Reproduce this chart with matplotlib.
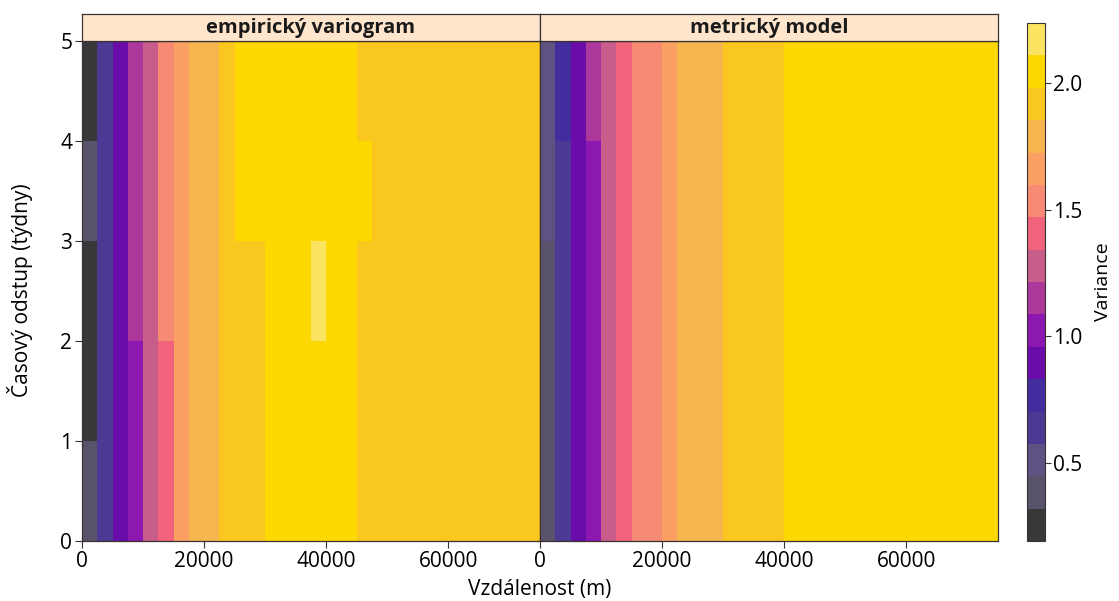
import numpy as np
import matplotlib.pyplot as plt
from matplotlib.colors import ListedColormap, BoundaryNorm
from matplotlib.cm import ScalarMappable

plt.rcParams['font.family'] = ['Open Sans', 'DejaVu Sans']

# ------------------------- data --------------------------------
time_edges = [0, 1, 2, 3, 4, 5]  # weeks

# empirical variogram: distance bin edges (m) and variance per time lag row
emp_edges = [0, 2500, 5000, 7500, 10000, 12500, 15000, 17500, 22500,
             25000, 30000, 37500, 40000, 45000, 47500, 75000]
emp_lag0 = [0.38, 0.64, 0.89, 1.02, 1.28, 1.41, 1.66, 1.79, 1.92, 1.92, 2.05, 2.05, 2.05, 1.92, 1.92]
emp_lag1 = [0.25, 0.64, 0.89, 1.02, 1.28, 1.41, 1.66, 1.79, 1.92, 1.92, 2.05, 2.05, 2.05, 1.92, 1.92]
emp_lag2 = [0.25, 0.64, 0.89, 1.15, 1.28, 1.53, 1.66, 1.79, 1.92, 1.92, 2.05, 2.17, 2.05, 1.92, 1.92]
emp_lag3 = [0.38, 0.64, 0.89, 1.15, 1.28, 1.53, 1.66, 1.79, 1.92, 2.05, 2.05, 2.05, 2.05, 2.05, 1.92]
emp_lag4 = [0.25, 0.64, 0.89, 1.15, 1.28, 1.53, 1.66, 1.79, 1.92, 2.05, 2.05, 2.05, 2.05, 1.92, 1.92]

# fitted metric model
mod_edges = [0, 2500, 5000, 7500, 10000, 12500, 15000, 20000, 22500,
             30000, 40000, 75000]
mod_lag0 = [0.38, 0.64, 0.89, 1.02, 1.28, 1.41, 1.53, 1.66, 1.79, 1.92, 2.05]
mod_lag1 = [0.38, 0.64, 0.89, 1.02, 1.28, 1.41, 1.53, 1.66, 1.79, 1.92, 2.05]
mod_lag2 = [0.38, 0.64, 0.89, 1.02, 1.28, 1.41, 1.53, 1.66, 1.79, 1.92, 2.05]
mod_lag3 = [0.51, 0.64, 0.89, 1.02, 1.28, 1.41, 1.53, 1.66, 1.79, 1.92, 2.05]
mod_lag4 = [0.51, 0.77, 0.89, 1.15, 1.28, 1.41, 1.53, 1.66, 1.79, 1.92, 2.05]

xticks = [0, 20000, 40000, 60000]
yticks = [0, 1, 2, 3, 4, 5]
cbar_ticks = [0.5, 1.0, 1.5, 2.0]

# ------------------------- colours --------------------------------
levels = np.linspace(0.19, 2.238, 17)
palette = ['#38383b', '#58536a', '#5d5282', '#4b3993', '#422c9e', '#690ca9',
           '#8c17b1', '#ad389b', '#c85d8b', '#f0637a', '#f78a73', '#f9a062',
           '#f6b54e', '#f9c71d', '#fdd901', '#fbe462']
cmap = ListedColormap(palette)
norm = BoundaryNorm(levels, cmap.N)

frame = '#3a3232'
W, H = 1119, 601

fig = plt.figure(figsize=(W / 100, H / 100), dpi=100)


def px_axes(x0, y0, x1, y1):
    return fig.add_axes([x0 / W, 1 - y1 / H, (x1 - x0) / W, (y1 - y0) / H])


panels = [
    ('empirický variogram', emp_edges, [emp_lag0, emp_lag1, emp_lag2, emp_lag3, emp_lag4]),
    ('metrický model', mod_edges, [mod_lag0, mod_lag1, mod_lag2, mod_lag3, mod_lag4]),
]

for i, (title, edges, rows) in enumerate(panels):
    x0 = 82 + i * 458
    ax = px_axes(x0, 41, x0 + 458, 541)
    ax.pcolormesh(edges, time_edges, np.array(rows), cmap=cmap, norm=norm,
                  shading='flat', antialiased=False)
    ax.set_xlim(0, 75000)
    ax.set_ylim(0, 5)
    ax.set_xticks(xticks)
    ax.set_xticklabels([str(v) for v in xticks])
    ax.tick_params(axis='both', direction='out', length=5, width=0.8,
                   color=frame, labelsize=15, pad=2, top=False, right=False)
    if i == 0:
        ax.set_yticks(yticks)
    else:
        ax.set_yticks([])
    for s in ax.spines.values():
        s.set_color(frame)
        s.set_linewidth(0.9)

    strip = px_axes(x0, 14, x0 + 458, 41)
    strip.set_facecolor('#ffe5cc')
    strip.set_xticks([])
    strip.set_yticks([])
    for s in strip.spines.values():
        s.set_color(frame)
        s.set_linewidth(0.9)
    strip.text(0.5, 0.5, title, ha='center', va='center', fontsize=14.5,
               fontweight='bold', color='#1a1a1a', transform=strip.transAxes)

# colour key
cax = px_axes(1027, 23, 1045, 541)
cb = fig.colorbar(ScalarMappable(norm=norm, cmap=cmap), cax=cax,
                  ticks=cbar_ticks, drawedges=False)
cb.ax.minorticks_off()
cb.ax.set_yticklabels(['%.1f' % v for v in cbar_ticks])
cb.ax.tick_params(labelsize=15, length=4, width=0.8, color=frame, pad=2)
cb.outline.set_edgecolor(frame)
cb.outline.set_linewidth(0.8)
cb.set_label('Variance', fontsize=14, labelpad=8)

fig.text(540 / W, 1 - 590 / H, 'Vzdálenost (m)', ha='center', va='center', fontsize=15)
fig.text(20 / W, 1 - 290 / H, 'Časový odstup (týdny)', ha='center', va='center',
         rotation=90, fontsize=15)

fig.savefig('out.png', dpi=100)
